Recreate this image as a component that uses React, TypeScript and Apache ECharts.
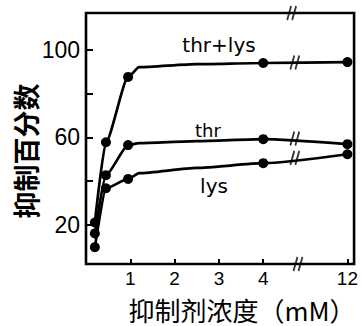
import React, { useEffect, useRef } from "react";
import * as echarts from "echarts";

// concentrations (mM) at which the curves were read; marked = measured point drawn with a dot
const concentrations = [0.2, 0.45, 0.95, 1.2, 2.5, 4, 12];
const marked = [true, true, true, false, false, true, true];
const thrLys = [21, 57.8, 87.7, 92.2, 93.6, 94.1, 94.5];
const thr = [16, 42.7, 56.5, 57.4, 58.3, 59.2, 56.9];
const lys = [9.7, 36.7, 41, 43.6, 46, 48.2, 52.3];

const xTickValues = [1, 2, 3, 4, 12];
const yTickValues = [20, 40, 60, 80, 100];
const yLabelValues = [20, 60, 100];

// broken axis: break marks drawn on each curve and on the frame
const breakConc = 7;
const breakValues = [94.3, 59.5, 50.6];

const Y_MIN = 2;
const Y_MAX = 117;

// compress the axis beyond the break (4 → 12 mM)
const pos = (c: number) => (c <= 4 ? c : 4 + (c - 4) * (1.9 / 8));
const posToLabel: Record<string, string> = {};
xTickValues.forEach((c) => (posToLabel[pos(c).toFixed(3)] = String(c)));

const toData = (vals: number[]) =>
  vals.map((v, i) => ({
    value: [pos(concentrations[i]), v],
    symbol: marked[i] ? "circle" : "none",
  }));

const SLASH = "path://M0,14 L4,0 M5,14 L9,0";

export default function App() {
  const ref = useRef<HTMLDivElement>(null);
  useEffect(() => {
    if (!ref.current) return;
    const chart = echarts.init(ref.current, undefined, { renderer: "svg" });
    const lineStyle = { color: "#000", width: 2.7 };
    const mkLine = (name: string, vals: number[]) => ({
      name,
      type: "line",
      data: toData(vals),
      smooth: 0.2,
      smoothMonotone: "x",
      symbol: "circle",
      symbolSize: 10,
      lineStyle,
      itemStyle: { color: "#000" },
      z: 3,
    });
    chart.setOption({
      animation: false,
      backgroundColor: "#fff",
      grid: {
        left: 86,
        right: 5,
        top: 13,
        bottom: 62,
        show: true,
        borderColor: "#000",
        borderWidth: 2.6,
        backgroundColor: "transparent",
      },
      xAxis: {
        type: "value",
        min: 0,
        max: 6.05,
        axisLine: { show: false },
        splitLine: { show: false },
        axisTick: {
          show: true,
          inside: true,
          length: 5,
          lineStyle: { color: "#000", width: 2 },
          customValues: xTickValues.map(pos),
        },
        axisLabel: {
          customValues: xTickValues.map(pos),
          formatter: (v: number) => posToLabel[v.toFixed(3)] ?? "",
          color: "#000",
          fontSize: 19,
          fontFamily: "Liberation Sans, Arial, sans-serif",
          margin: 5,
        },
      },
      yAxis: {
        type: "value",
        min: Y_MIN,
        max: Y_MAX,
        axisLine: { show: false },
        splitLine: { show: false },
        axisTick: {
          show: true,
          inside: true,
          length: 7,
          lineStyle: { color: "#000", width: 2 },
          customValues: yTickValues,
        },
        axisLabel: {
          customValues: yLabelValues,
          color: "#000",
          fontSize: 23,
          fontFamily: "Liberation Sans, Arial, sans-serif",
          margin: 6,
        },
      },
      series: [
        mkLine("thr+lys", thrLys),
        mkLine("thr", thr),
        mkLine("lys", lys),
        {
          name: "breaks",
          type: "scatter",
          symbol: SLASH,
          symbolSize: [9, 14],
          itemStyle: { color: "rgba(0,0,0,0)", borderColor: "#000", borderWidth: 2.2 },
          data: [
            ...breakValues.map((v) => [pos(breakConc), v]),
            [pos(breakConc - 0.3), Y_MAX],
            [pos(breakConc + 0.3), Y_MIN],
          ],
          z: 5,
          silent: true,
        },
      ],
      graphic: [
        {
          type: "text",
          x: 219,
          y: 45,
          style: {
            text: "thr+lys",
            fontSize: 20,
            fontFamily: "DejaVu Sans, sans-serif",
            fill: "#000",
            align: "center",
            verticalAlign: "middle",
          },
        },
        {
          type: "text",
          x: 208,
          y: 130,
          style: {
            text: "thr",
            fontSize: 18,
            fontFamily: "DejaVu Sans, sans-serif",
            fill: "#000",
            align: "center",
            verticalAlign: "middle",
          },
        },
        {
          type: "text",
          x: 214,
          y: 186,
          style: {
            text: "lys",
            fontSize: 20,
            fontFamily: "DejaVu Sans, sans-serif",
            fill: "#000",
            align: "center",
            verticalAlign: "middle",
          },
        },
        {
          type: "text",
          x: 25,
          y: 151,
          rotation: Math.PI / 2,
          style: {
            text: "抑制百分数",
            fontSize: 27,
            fontWeight: "bold",
            fontFamily: "Noto Sans CJK SC, sans-serif",
            fill: "#000",
            align: "center",
            verticalAlign: "middle",
          },
        },
        {
          type: "text",
          x: 242,
          y: 309,
          style: {
            text: "抑制剂浓度（mM）",
            fontSize: 26,
            fontFamily: "Noto Sans CJK SC, sans-serif",
            fill: "#000",
            align: "center",
            verticalAlign: "middle",
          },
        },
      ],
    });
    return () => chart.dispose();
  }, []);
  return (
    <div
      ref={ref}
      style={{ position: "absolute", left: 0, top: 0, width: 361, height: 326 }}
    />
  );
}
